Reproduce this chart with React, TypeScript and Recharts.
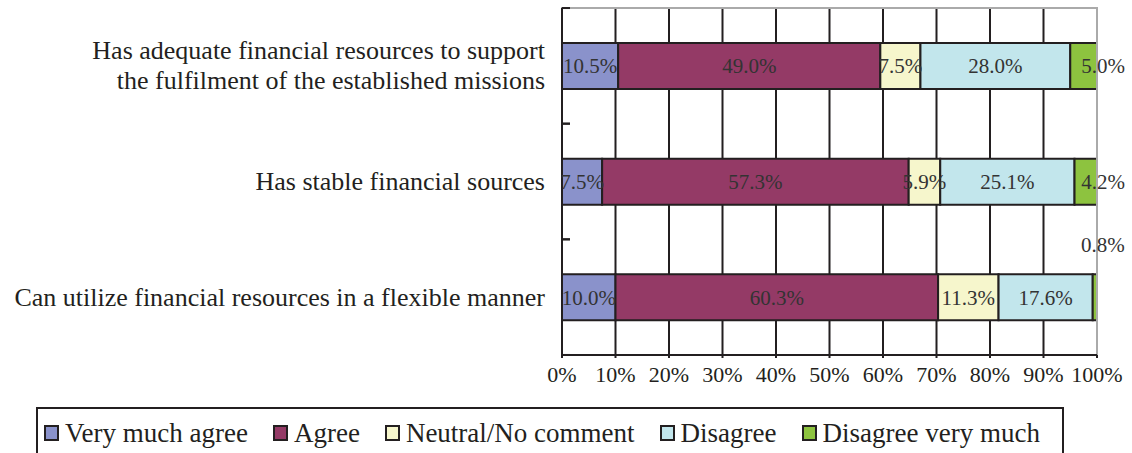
import React from 'react';
import {
    BarChart,
    Bar,
    XAxis,
    YAxis,
    CartesianGrid,
    ReferenceArea,
    ReferenceLine,
    LabelList
} from 'recharts';

const categories = [
    'Has adequate financial resources to support\nthe fulfilment of the established missions',
    'Has stable financial sources',
    'Can utilize financial resources in a flexible manner'
];
const veryMuchAgree = [10.5, 7.5, 10.0];
const agree = [49.0, 57.3, 60.3];
const neutral = [7.5, 5.9, 11.3];
const disagree = [28.0, 25.1, 17.6];
const disagreeVeryMuch = [5.0, 4.2, 0.8];
const xTicks = [0, 10, 20, 30, 40, 50, 60, 70, 80, 90, 100];

const series = [
    { key: 'veryMuchAgree', name: 'Very much agree', color: '#8a92cb', values: veryMuchAgree },
    { key: 'agree', name: 'Agree', color: '#943a66', values: agree },
    { key: 'neutral', name: 'Neutral/No comment', color: '#f6f6cc', values: neutral },
    { key: 'disagree', name: 'Disagree', color: '#c2e6ec', values: disagree },
    { key: 'disagreeVeryMuch', name: 'Disagree very much', color: '#8dc33f', values: disagreeVeryMuch }
];

const data = categories.map((c, i) => {
    const row: any = { name: c };
    series.forEach(s => { row[s.key] = s.values[i]; });
    return row;
});

const FONT = '"Liberation Serif", "Times New Roman", serif';
const INK = '#231f20';
const HALF_BAND = 57.8;

const CategoryTick = (props: any) => {
    const { x, y, payload } = props;
    const lines: string[] = String(payload.value).split('\n');
    const ax = x + 17;
    return (
        <g>
            <line x1={ax} y1={y - HALF_BAND} x2={ax + 8} y2={y - HALF_BAND} stroke={INK} strokeWidth={2} />
            <line x1={ax} y1={y + HALF_BAND} x2={ax + 8} y2={y + HALF_BAND} stroke={INK} strokeWidth={2} />
            {lines.map((l, i) => (
                <text
                    key={i}
                    x={x}
                    y={y + (i - (lines.length - 1) / 2) * 30}
                    textAnchor="end"
                    dominantBaseline="central"
                    fill={INK}
                    fontSize={26}
                    fontFamily={FONT}
                >
                    {l}
                </text>
            ))}
        </g>
    );
};

const fmt = (v: any) => `${Number(v).toFixed(1)}%`;

const LastLabel = (props: any) => {
    const { x, y, width, height, value } = props;
    const small = value < 1;
    return (
        <text
            x={small ? x + width / 2 + 8 : x + width + 6}
            y={small ? y - 29 : y + height / 2}
            textAnchor="middle"
            dominantBaseline="central"
            fill="#333"
            fontSize={21}
            fontFamily={FONT}
        >
            {fmt(value)}
        </text>
    );
};

export default function App() {
    return (
        <div style={{ position: 'absolute', left: 0, top: 0, width: 1132, height: 453, background: '#fff', overflow: 'hidden' }}>
            <BarChart
                width={1132}
                height={453}
                data={data}
                layout="vertical"
                margin={{ top: 8, right: 35, bottom: 68, left: 0 }}
                barSize={46}
            >
                <ReferenceArea x1={0} x2={100} fill="none" stroke="#aaa" strokeWidth={2} />
                <CartesianGrid vertical horizontal={false} stroke={INK} strokeWidth={2} />
                <ReferenceLine x={100} stroke="#aaa" strokeWidth={2} />
                <XAxis
                    type="number"
                    domain={[0, 100]}
                    ticks={xTicks}
                    tickFormatter={(v: number) => `${v}%`}
                    axisLine={{ stroke: INK, strokeWidth: 2 }}
                    tickLine={{ stroke: INK, strokeWidth: 2 }}
                    tickSize={3}
                    tickMargin={8}
                    height={30}
                    tick={{ fill: INK, fontSize: 22, fontFamily: FONT }}
                    interval={0}
                />
                <YAxis
                    type="category"
                    dataKey="name"
                    width={562}
                    axisLine={{ stroke: INK, strokeWidth: 2 }}
                    tickLine={false}
                    tickSize={0}
                    tickMargin={17}
                    tick={<CategoryTick />}
                    interval={0}
                />
                {series.map((s, i) => (
                    <Bar
                        key={s.key}
                        dataKey={s.key}
                        stackId="a"
                        fill={s.color}
                        stroke={INK}
                        strokeWidth={2}
                        isAnimationActive={false}
                    >
                        {i < series.length - 1 ? (
                            <LabelList
                                dataKey={s.key}
                                position="center"
                                formatter={fmt}
                                fill="#333"
                                fontSize={21}
                                fontFamily={FONT}
                            />
                        ) : (
                            <LabelList dataKey={s.key} content={<LastLabel />} />
                        )}
                    </Bar>
                ))}
            </BarChart>
            <div
                style={{
                    position: 'absolute',
                    left: 36,
                    top: 407,
                    width: 1028,
                    height: 60,
                    borderTop: `2px solid ${INK}`,
                    borderLeft: `2px solid ${INK}`,
                    borderRight: `2px solid ${INK}`,
                    boxSizing: 'border-box',
                    display: 'flex',
                    alignItems: 'flex-start',
                    paddingTop: 8,
                    paddingLeft: 6,
                    fontFamily: FONT,
                    fontSize: 27,
                    color: INK,
                    whiteSpace: 'nowrap'
                }}
            >
                {series.map(s => (
                    <div key={s.key} style={{ display: 'flex', alignItems: 'center', flexShrink: 0, marginRight: 25, lineHeight: '32px' }}>
                        <span
                            style={{
                                display: 'inline-block',
                                flexShrink: 0,
                                width: 11,
                                height: 12,
                                background: s.color,
                                border: `2px solid ${INK}`,
                                marginRight: 6
                            }}
                        />
                        <span>{s.name}</span>
                    </div>
                ))}
            </div>
        </div>
    );
}
